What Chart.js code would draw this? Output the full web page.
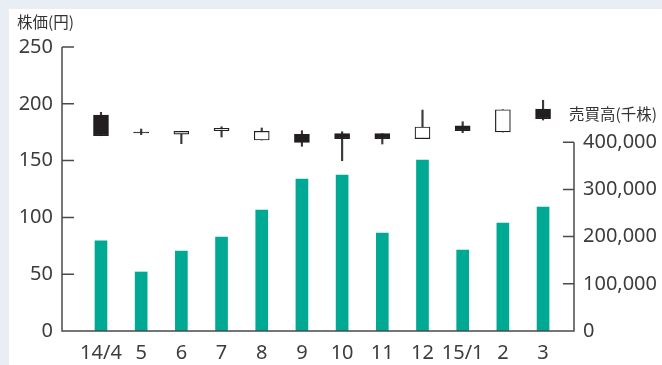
<!DOCTYPE html>
<html>
<head>
<meta charset="utf-8">
<script src="https://cdn.jsdelivr.net/npm/chart.js@4"></script>
<style>
  body { margin: 0; background: #e8eef4; }
  #wrap { position: relative; width: 662px; height: 365px; overflow: hidden; }
  #paper { position: absolute; left: 9px; top: 9px; right: 0; bottom: 0; background: #fff; }
  #chart { position: absolute; left: 0; top: 0; }
</style>
</head>
<body>
<div id="wrap">
  <div id="paper"></div>
  <canvas id="chart" width="662" height="365"></canvas>
</div>
<script>
const months = ['14/4', '5', '6', '7', '8', '9', '10', '11', '12', '15/1', '2', '3'];
// 株価 (円)
const open  = [190.1, 175.0, 173.2, 176.3, 168.1, 173.2, 173.7, 173.7, 169.3, 180.5, 175.2, 195.4];
const close = [171.9, 174.3, 175.8, 178.3, 175.8, 166.1, 169.3, 169.3, 179.6, 176.3, 194.8, 186.9];
const high  = [192.5, 177.8, 175.8, 179.8, 178.7, 176.3, 175.4, 173.7, 194.5, 184.2, 194.8, 203.1];
const low   = [171.9, 172.8, 164.9, 170.8, 168.1, 162.6, 149.9, 164.6, 169.3, 174.6, 175.2, 185.7];
// 売買高 (千株)
const volume = [191000, 125000, 169500, 199000, 256000, 322000, 330500, 207600, 362300, 171600, 228800, 262700];
const priceTicks = [0, 50, 100, 150, 200, 250];
const volumeTicks = [0, 100000, 200000, 300000, 400000];

const ink = '#231f20';
const axisColor = '#4a4a4a';
const tickFont = { family: 'Noto Sans', size: 20 };

const axesPlugin = {
    id: 'axes',
    afterDraw(chart) {
        const ctx = chart.ctx;
        const x = chart.scales.x, yp = chart.scales.y, yv = chart.scales.yv;
        const left = x.left, right = x.right, bottom = yp.getPixelForValue(0);
        ctx.save();
        ctx.strokeStyle = axisColor;
        ctx.lineWidth = 1.5;
        ctx.beginPath();
        ctx.moveTo(left, yp.getPixelForValue(250));
        ctx.lineTo(left, bottom);
        ctx.lineTo(right, bottom);
        ctx.lineTo(right, yv.getPixelForValue(400000));
        priceTicks.forEach(v => {
            const py = yp.getPixelForValue(v);
            ctx.moveTo(left, py);
            ctx.lineTo(left + 12, py);
        });
        volumeTicks.forEach(v => {
            const py = yv.getPixelForValue(v);
            ctx.moveTo(right, py);
            ctx.lineTo(right - 11, py);
        });
        ctx.stroke();

        ctx.fillStyle = '#333';
        ctx.font = '15.5px "Noto Sans CJK JP"';
        ctx.textBaseline = 'middle';
        ctx.textAlign = 'left';
        ctx.fillText('株価(円)', 17, 22);
        ctx.fillText('売買高(千株)', 569, 114);
        ctx.restore();
    }
};

new Chart(document.getElementById('chart'), {
    type: 'bar',
    data: {
        datasets: [
            {
                label: '売買高',
                yAxisID: 'yv',
                data: volume.map((v, i) => ({ x: i, y: v })),
                backgroundColor: '#00a994',
                barThickness: 12,
                grouped: false,
                order: 3
            },
            {
                label: 'wick',
                yAxisID: 'y',
                data: high.map((h, i) => ({ x: i, y: [low[i], h] })),
                backgroundColor: '#3a3a3a',
                barThickness: 1.5,
                grouped: false,
                order: 2
            },
            {
                label: '株価',
                yAxisID: 'y',
                data: open.map((o, i) => ({ x: i, y: [o, close[i]] })),
                backgroundColor: open.map((o, i) => close[i] < o ? ink : '#fff'),
                borderColor: ink,
                borderWidth: 1.2,
                borderSkipped: false,
                barThickness: 15,
                grouped: false,
                order: 1
            }
        ]
    },
    options: {
        responsive: false,
        animation: false,
        layout: { padding: { top: 47 } },
        plugins: { legend: { display: false }, tooltip: { enabled: false } },
        scales: {
            x: {
                type: 'linear',
                offset: false,
                min: -0.97,
                max: 11.77,
                grid: { display: false, drawTicks: false, offset: false },
                border: { display: false },
                afterBuildTicks: s => { s.ticks = months.map((m, i) => ({ value: i })); },
                afterFit: s => { s.height = 34; },
                ticks: {
                    autoSkip: false,
                    maxRotation: 0,
                    padding: 10,
                    color: '#3c3c3c',
                    font: tickFont,
                    callback: (v, i) => months[i]
                }
            },
            y: {
                position: 'left',
                min: 0,
                max: 250,
                grid: { display: false, drawTicks: false },
                border: { display: false },
                afterBuildTicks: s => { s.ticks = priceTicks.map(v => ({ value: v })); },
                afterFit: s => { s.width = 62; },
                ticks: { padding: 9, color: '#3c3c3c', font: tickFont }
            },
            yv: {
                position: 'right',
                min: 0,
                max: 601700,
                grid: { display: false, drawTicks: false },
                border: { display: false },
                afterBuildTicks: s => { s.ticks = volumeTicks.map(v => ({ value: v })); },
                afterFit: s => { s.width = 88; },
                ticks: {
                    padding: 9,
                    color: '#3c3c3c',
                    font: tickFont,
                    callback: v => v.toLocaleString('en-US')
                }
            }
        }
    },
    plugins: [axesPlugin]
});
</script>
</body>
</html>
